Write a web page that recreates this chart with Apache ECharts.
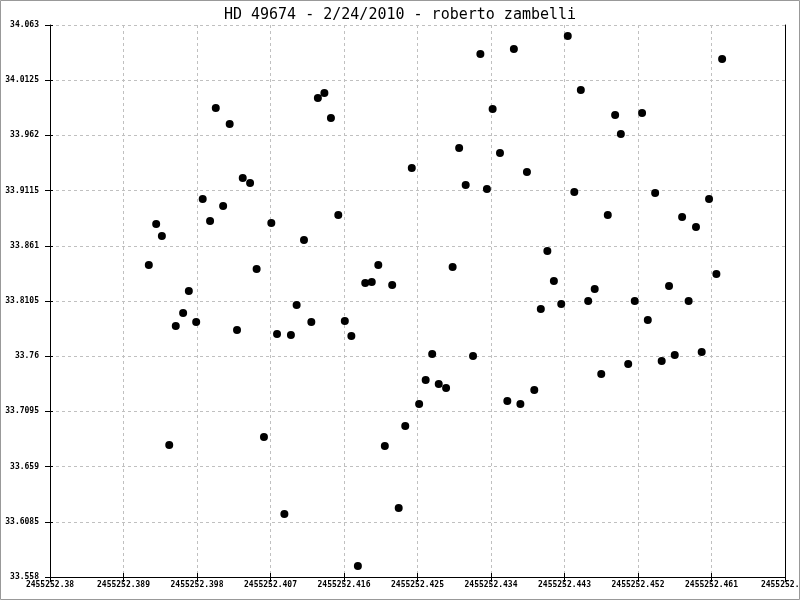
<!DOCTYPE html>
<html>
<head>
<meta charset="utf-8">
<script src="https://cdn.jsdelivr.net/npm/echarts@6/dist/echarts.min.js"></script>
<style>
html,body{margin:0;padding:0;background:#fff;}
#chart{width:800px;height:600px;}
</style>
</head>
<body>
<div id="chart"></div>
<script>
const titleText = 'HD 49674 - 2/24/2010 - roberto zambelli';

const jd = [
  2455252.3921, 2455252.3930, 2455252.3937, 2455252.3946, 2455252.3954, 2455252.3963,
  2455252.3970, 2455252.3979, 2455252.3987, 2455252.3996, 2455252.4003, 2455252.4012,
  2455252.4020, 2455252.4029, 2455252.4036, 2455252.4045, 2455252.4053, 2455252.4062,
  2455252.4071, 2455252.4078, 2455252.4087, 2455252.4095, 2455252.4102, 2455252.4111,
  2455252.4120, 2455252.4128, 2455252.4136, 2455252.4144, 2455252.4153, 2455252.4161,
  2455252.4169, 2455252.4177, 2455252.4186, 2455252.4194, 2455252.4202, 2455252.4210,
  2455252.4219, 2455252.4227, 2455252.4235, 2455252.4243, 2455252.4252, 2455252.4260,
  2455252.4268, 2455252.4276, 2455252.4285, 2455252.4293, 2455252.4301, 2455252.4309,
  2455252.4318, 2455252.4327, 2455252.4335, 2455252.4342, 2455252.4351, 2455252.4360,
  2455252.4368, 2455252.4376, 2455252.4384, 2455252.4393, 2455252.4401, 2455252.4409,
  2455252.4417, 2455252.4426, 2455252.4434, 2455252.4442, 2455252.4450, 2455252.4459,
  2455252.4467, 2455252.4475, 2455252.4483, 2455252.4492, 2455252.4499, 2455252.4508,
  2455252.4516, 2455252.4525, 2455252.4532, 2455252.4541, 2455252.4549, 2455252.4558,
  2455252.4565, 2455252.4574, 2455252.4582, 2455252.4591, 2455252.4598, 2455252.4607,
  2455252.4616, 2455252.4623
];

const mag = [
  33.8434, 33.8809, 33.8700, 33.6788, 33.7876, 33.7995,
  33.8197, 33.7913, 33.9038, 33.8837, 33.9871, 33.8974,
  33.9724, 33.7840, 33.9230, 33.9185, 33.8398, 33.6861,
  33.8819, 33.7803, 33.6156, 33.7794, 33.8068, 33.8663,
  33.7913, 33.9962, 34.0008, 33.9779, 33.8892, 33.7922,
  33.7785, 33.5681, 33.8270, 33.8279, 33.8434, 33.6778,
  33.8251, 33.6211, 33.6961, 33.9322, 33.7163, 33.7382,
  33.7620, 33.7346, 33.7309, 33.8416, 33.9505, 33.9166,
  33.7602, 34.0365, 33.9130, 33.9862, 33.9459, 33.7190,
  34.0410, 33.7163, 33.9285, 33.7291, 33.8032, 33.8562,
  33.8288, 33.8078, 34.0529, 33.9102, 34.0035, 33.8105,
  33.8215, 33.7437, 33.8892, 33.9807, 33.9633, 33.7529,
  33.8105, 33.9825, 33.7931, 33.9093, 33.7556, 33.8242,
  33.7611, 33.8873, 33.8105, 33.8782, 33.7638, 33.9038,
  33.8352, 34.0319
];

const xMin = 2455252.38, xMax = 2455252.47, xStep = 0.009;
const yMin = 33.558, yMax = 34.063, yStep = 0.0505;

const mono = "'DejaVu Sans Mono', 'Liberation Mono', monospace";
const fmt = (d) => (v) => {
  let s = v.toFixed(d);
  if (s.indexOf('.') >= 0) s = s.replace(/0+$/, '').replace(/\.$/, '');
  return s;
};

const grid = { left: 50, right: 15, top: 25, bottom: 23, containLabel: false, outerBoundsMode: 'none' };
const split = { show: true, lineStyle: { color: '#c0c0c0', type: [3, 3], width: 1 } };

const chart = echarts.init(document.getElementById('chart'), null, { renderer: 'canvas' });
chart.setOption({
  animation: false,
  backgroundColor: '#fff',
  title: {
    text: titleText, left: 'center', top: 3,
    textStyle: { fontFamily: mono, fontSize: 15, fontWeight: 'normal', color: '#000' }
  },
  grid: grid,
  graphic: [{
    type: 'rect', silent: true, z: 100,
    shape: { x: 0.5, y: 0.5, width: 799, height: 599 },
    style: { fill: null, stroke: '#999', lineWidth: 1 }
  }],
  xAxis: [{
    type: 'value', position: 'bottom', min: xMin, max: xMax, interval: xStep,
    axisLine: { show: true, onZero: false, lineStyle: { color: '#000', width: 1 } },
    axisTick: { show: true, inside: false, length: 5, lineStyle: { color: '#000' } },
    axisLabel: { show: true, margin: 4, fontFamily: mono, fontSize: 8, fontWeight: 'bold', color: '#000', formatter: fmt(3), hideOverlap: false },
    splitLine: split
  }, {
    type: 'value', position: 'bottom', min: xMin, max: xMax, interval: xStep, offset: 0,
    axisLine: { show: false },
    axisTick: { show: true, inside: true, length: 4, lineStyle: { color: '#000' } },
    axisLabel: { show: false }, splitLine: { show: false }
  }],
  yAxis: [{
    type: 'value', position: 'left', min: yMin, max: yMax, interval: yStep,
    axisLine: { show: true, onZero: false, lineStyle: { color: '#000', width: 1 } },
    axisTick: { show: true, inside: false, length: 5, lineStyle: { color: '#000' } },
    axisLabel: { show: true, margin: 11, fontFamily: mono, fontSize: 8, fontWeight: 'bold', color: '#000', formatter: fmt(4) },
    splitLine: split
  }, {
    type: 'value', position: 'left', min: yMin, max: yMax, interval: yStep, offset: 0,
    axisLine: { show: false },
    axisTick: { show: true, inside: true, length: 3, lineStyle: { color: '#000' } },
    axisLabel: { show: false }, splitLine: { show: false }
  }, {
    type: 'value', position: 'right', min: yMin, max: yMax, interval: yStep, offset: 0,
    axisLine: { show: true, onZero: false, lineStyle: { color: '#000', width: 1 } },
    axisTick: { show: false }, axisLabel: { show: false }, splitLine: { show: false }
  }],
  series: [{
    type: 'scatter', xAxisIndex: 0, yAxisIndex: 0,
    symbol: 'circle', symbolSize: 8,
    itemStyle: { color: '#000', opacity: 1 },
    data: jd.map((x, i) => [x, mag[i]])
  }]
});
</script>
</body>
</html>
